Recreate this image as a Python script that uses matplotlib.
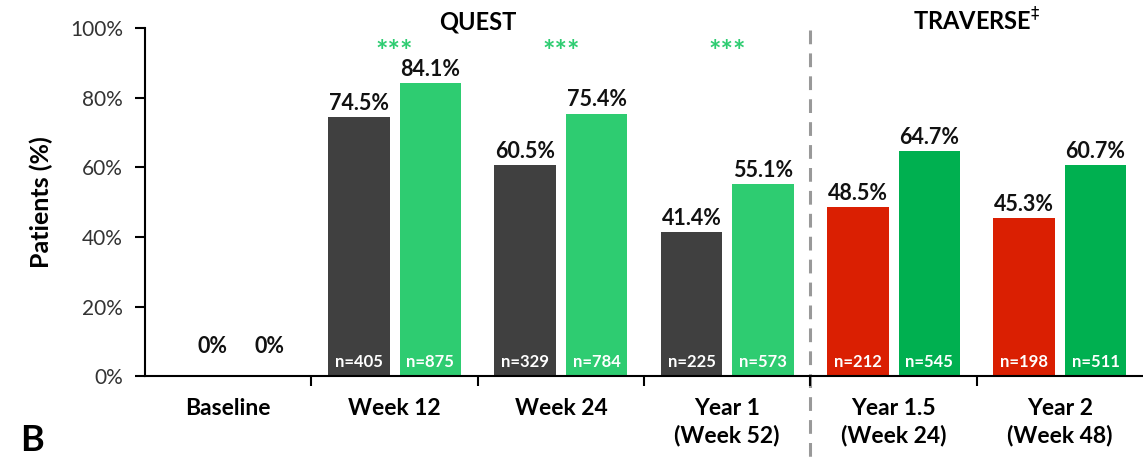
import matplotlib.pyplot as plt
import numpy as np

plt.rcParams['font.family'] = ['Lato', 'DejaVu Sans']

# Time points: first four from QUEST, last two from TRAVERSE
timepoints = ['Baseline', 'Week 12', 'Week 24', 'Year 1\n(Week 52)',
              'Year 1.5\n(Week 24)', 'Year 2\n(Week 48)']
placebo_pct = [0, 74.5, 60.5, 41.4, 48.5, 45.3]
dupilumab_pct = [0, 84.1, 75.4, 55.1, 64.7, 60.7]
placebo_n = [None, 405, 329, 225, 212, 198]
dupilumab_n = [None, 875, 784, 573, 545, 511]
signif_marks = ['', '***', '***', '***', '', '']

left_colors = ['#404040'] * 4 + ['#DA1F02'] * 2
right_colors = ['#2ECC71'] * 4 + ['#00B050'] * 2

fig = plt.figure(figsize=(11.43, 4.65), dpi=100)
ax = fig.add_axes([0.127, 0.191, 0.873, 0.749])

x = np.arange(len(timepoints))
w = 0.37
off = 0.215
ax.bar(x - off, placebo_pct, w, color=left_colors)
ax.bar(x + off, dupilumab_pct, w, color=right_colors)


def label_bars(xs, values, counts, zero_shift):
    for xi, v, n in zip(xs, values, counts):
        if v == 0:
            ax.text(xi + zero_shift, 5.5, '0%', ha='center', va='bottom',
                    fontsize=15.5, fontweight='bold', color='#111111')
        else:
            ax.text(xi, v + 0.9, f'{v:.1f}%', ha='center', va='bottom',
                    fontsize=15.5, fontweight='bold', color='#111111')
        if n is not None:
            ax.text(xi, 1.8, f'n={n}', ha='center', va='bottom', fontsize=12,
                    fontweight='bold', color='white')


# Percent labels above every bar, sample sizes inside near the base
label_bars(x - off, placebo_pct, placebo_n, 0.12)
label_bars(x + off, dupilumab_pct, dupilumab_n, 0.03)

# Significance stars sit over the middle of each QUEST time point
for xi, s in zip(x, signif_marks):
    if s:
        ax.text(xi, 93.0, s, ha='center', va='center', fontsize=21,
                fontweight='bold', color='#2ECC71')

# Study headers and the divider between the two studies
ax.text(1.5, 98.3, 'QUEST', ha='center', va='bottom', fontsize=17, fontweight='bold')
ax.text(4.5, 98.0, r'TRAVERSE$^{\ddagger}$', ha='center', va='bottom', fontsize=17,
        fontweight='bold')
ax.plot([3.5, 3.5], [99.5, -26], color='#999999', lw=2.2, ls=(0, (4.5, 3)),
        clip_on=False, zorder=0)

ax.set_xlim(-0.5, 5.5)
ax.set_ylim(0, 100)
ax.set_yticks(np.arange(0, 101, 20))
ax.set_yticklabels([f'{t}%' for t in range(0, 101, 20)], fontsize=15, color='#333333')
ax.set_xticks(x)
ax.set_xticklabels(timepoints, fontsize=16.5, fontweight='bold', linespacing=1.3)
ax.set_xticks(np.arange(0.5, 5, 1), minor=True)
ax.tick_params(axis='x', which='major', length=0, pad=16)
ax.tick_params(axis='x', which='minor', length=7, width=1.5, direction='out')
ax.tick_params(axis='y', length=7, width=1.5, direction='out', pad=9)

for side in ['top', 'right']:
    ax.spines[side].set_visible(False)
ax.spines['left'].set_linewidth(1.5)
ax.spines['bottom'].set_linewidth(1.5)

ax.set_ylabel('Patients (%)', fontsize=18, fontweight='bold', labelpad=12)
fig.text(0.018, 0.03, 'B', fontsize=26, fontweight='bold')

fig.savefig('out.png', dpi=100)
